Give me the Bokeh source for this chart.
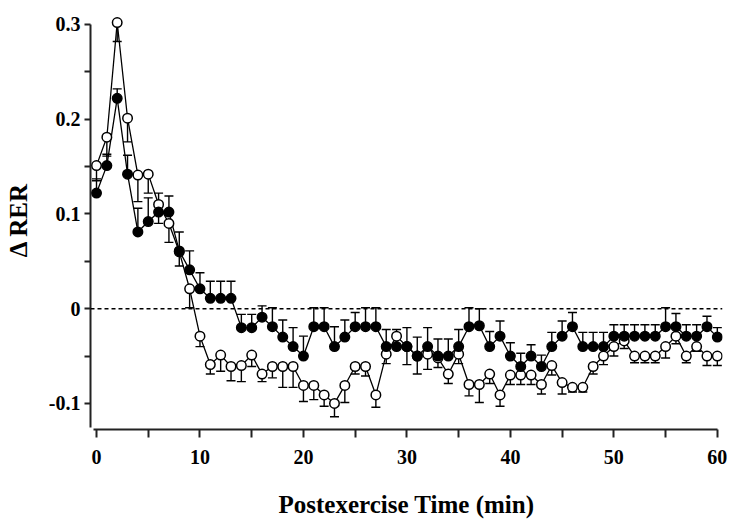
from bokeh.plotting import figure
from bokeh.models import ColumnDataSource, Whisker, TeeHead, FixedTicker, Span
from bokeh.embed import file_html
from bokeh.resources import INLINE

time_min = list(range(61))

trained_mean = [0.122, 0.151, 0.222, 0.142, 0.081, 0.092, 0.102, 0.102, 0.061, 0.041,
                0.021, 0.011, 0.011, 0.011, -0.020, -0.020, -0.009, -0.019, -0.030, -0.040,
                -0.050, -0.019, -0.019, -0.040, -0.030, -0.019, -0.019, -0.019, -0.040, -0.040,
                -0.040, -0.050, -0.040, -0.050, -0.050, -0.040, -0.019, -0.018, -0.040, -0.029,
                -0.050, -0.061, -0.050, -0.061, -0.040, -0.029, -0.019, -0.040, -0.040, -0.040,
                -0.029, -0.029, -0.029, -0.029, -0.029, -0.019, -0.019, -0.029, -0.029, -0.019,
                -0.030]
trained_se = [0.015, 0.012, 0.010, 0.020, 0.025, 0.025, 0.020, 0.017, 0.020, 0.020,
              0.017, 0.018, 0.018, 0.018, 0.014, 0.014, 0.012, 0.020, 0.018, 0.020,
              0.021, 0.020, 0.020, 0.021, 0.018, 0.015, 0.020, 0.020, 0.018, 0.018,
              0.020, 0.020, 0.020, 0.018, 0.018, 0.018, 0.020, 0.018, 0.016, 0.016,
              0.014, 0.014, 0.012, 0.012, 0.015, 0.016, 0.015, 0.015, 0.015, 0.015,
              0.012, 0.012, 0.012, 0.012, 0.012, 0.020, 0.014, 0.012, 0.012, 0.011,
              0.010]

open_mean = [0.151, 0.181, 0.302, 0.201, 0.141, 0.142, 0.110, 0.090, 0.060, 0.021,
             -0.029, -0.059, -0.049, -0.061, -0.060, -0.049, -0.069, -0.061, -0.061, -0.061,
             -0.081, -0.081, -0.091, -0.100, -0.081, -0.061, -0.061, -0.091, -0.048, -0.029,
             -0.040, -0.050, -0.048, -0.052, -0.069, -0.048, -0.080, -0.080, -0.069, -0.091,
             -0.070, -0.070, -0.070, -0.080, -0.060, -0.078, -0.083, -0.083, -0.061, -0.050,
             -0.040, -0.034, -0.050, -0.050, -0.050, -0.040, -0.029, -0.050, -0.040, -0.050,
             -0.050]
open_se = [0.016, 0.020, 0.020, 0.025, 0.028, 0.020, 0.020, 0.020, 0.015, 0.020,
           0.011, 0.010, 0.017, 0.015, 0.017, 0.012, 0.008, 0.012, 0.022, 0.022,
           0.017, 0.015, 0.012, 0.014, 0.018, 0.008, 0.010, 0.013, 0.010, 0.010,
           0.019, 0.019, 0.016, 0.010, 0.010, 0.010, 0.012, 0.019, 0.010, 0.012,
           0.010, 0.010, 0.010, 0.010, 0.010, 0.012, 0.005, 0.005, 0.008, 0.009,
           0.010, 0.008, 0.007, 0.007, 0.007, 0.012, 0.008, 0.007, 0.005, 0.010,
           0.010]

x_ticks = [0, 5, 10, 15, 20, 25, 30, 35, 40, 45, 50, 55, 60]
x_labels = {0: "0", 10: "10", 20: "20", 30: "30", 40: "40", 50: "50", 60: "60"}
y_ticks = [-0.1, -0.05, 0.0, 0.05, 0.1, 0.15, 0.2, 0.25, 0.3]
y_labels = {-0.1: "-0.1", 0.0: "0", 0.1: "0.1", 0.2: "0.2", 0.3: "0.3"}

FONT = "Liberation Serif"

p = figure(width=729, height=520, output_backend="svg", toolbar_location=None,
           x_range=(-0.58, 60.5), y_range=(-0.1275, 0.3147),
           min_border_left=90, min_border_right=7, min_border_top=10, min_border_bottom=90)
p.outline_line_color = None
p.grid.visible = False
p.background_fill_color = "white"
p.border_fill_color = "white"

# zero reference line
zero = Span(location=0, dimension="width", line_color="black", line_width=1.5, line_dash="4 3")
p.add_layout(zero)

src_t = ColumnDataSource(dict(x=time_min, y=trained_mean,
                              up=[m + s for m, s in zip(trained_mean, trained_se)]))
src_o = ColumnDataSource(dict(x=time_min, y=open_mean,
                              lo=[m - s for m, s in zip(open_mean, open_se)]))

w_o = Whisker(source=src_o, base="x", upper="y", lower="lo", dimension="height",
              upper_head=None, lower_head=TeeHead(size=9, line_width=1.4, line_color="black"),
              line_color="black", line_width=1.4)
w_t = Whisker(source=src_t, base="x", upper="up", lower="y", dimension="height",
              lower_head=None, upper_head=TeeHead(size=9, line_width=1.4, line_color="black"),
              line_color="black", line_width=1.4)
p.add_layout(w_o)
p.add_layout(w_t)

p.line("x", "y", source=src_o, line_color="black", line_width=1.3)
p.line("x", "y", source=src_t, line_color="black", line_width=1.3)
p.scatter("x", "y", source=src_o, size=9.5, fill_color="white", line_color="black", line_width=1.5)
p.scatter("x", "y", source=src_t, size=9.5, fill_color="black", line_color="black", line_width=1.5)

# axes
xa = p.xaxis[0]
xa.ticker = FixedTicker(ticks=x_ticks, minor_ticks=[])
xa.major_label_overrides = {k: x_labels.get(k, "") for k in x_ticks}
xa.bounds = (-0.3, 60)
xa.axis_label = "Postexercise Time (min)"
ya = p.yaxis[0]
ya.ticker = FixedTicker(ticks=y_ticks, minor_ticks=[])
ya.major_label_overrides = {k: y_labels.get(k, "") for k in y_ticks}
ya.bounds = (-0.125, 0.3)
ya.axis_label = "Δ RER"

for ax in (xa, ya):
    ax.axis_line_color = "#222222"
    ax.axis_line_width = 2
    ax.major_tick_line_color = "#222222"
    ax.major_tick_line_width = 2
    ax.major_tick_in = 0
    ax.major_label_text_font = FONT
    ax.major_label_text_font_style = "bold"
    ax.major_label_text_font_size = "20px"
    ax.major_label_text_color = "black"
    ax.axis_label_text_font = FONT
    ax.axis_label_text_font_style = "bold"
    ax.axis_label_text_font_size = "25px"
    ax.axis_label_text_color = "black"

xa.major_tick_out = 8
xa.major_label_standoff = 12
xa.axis_label_standoff = 24
ya.major_tick_out = 6
ya.major_label_standoff = 4
ya.axis_label_standoff = 14

open("out.html", "w").write(file_html(p, INLINE))
